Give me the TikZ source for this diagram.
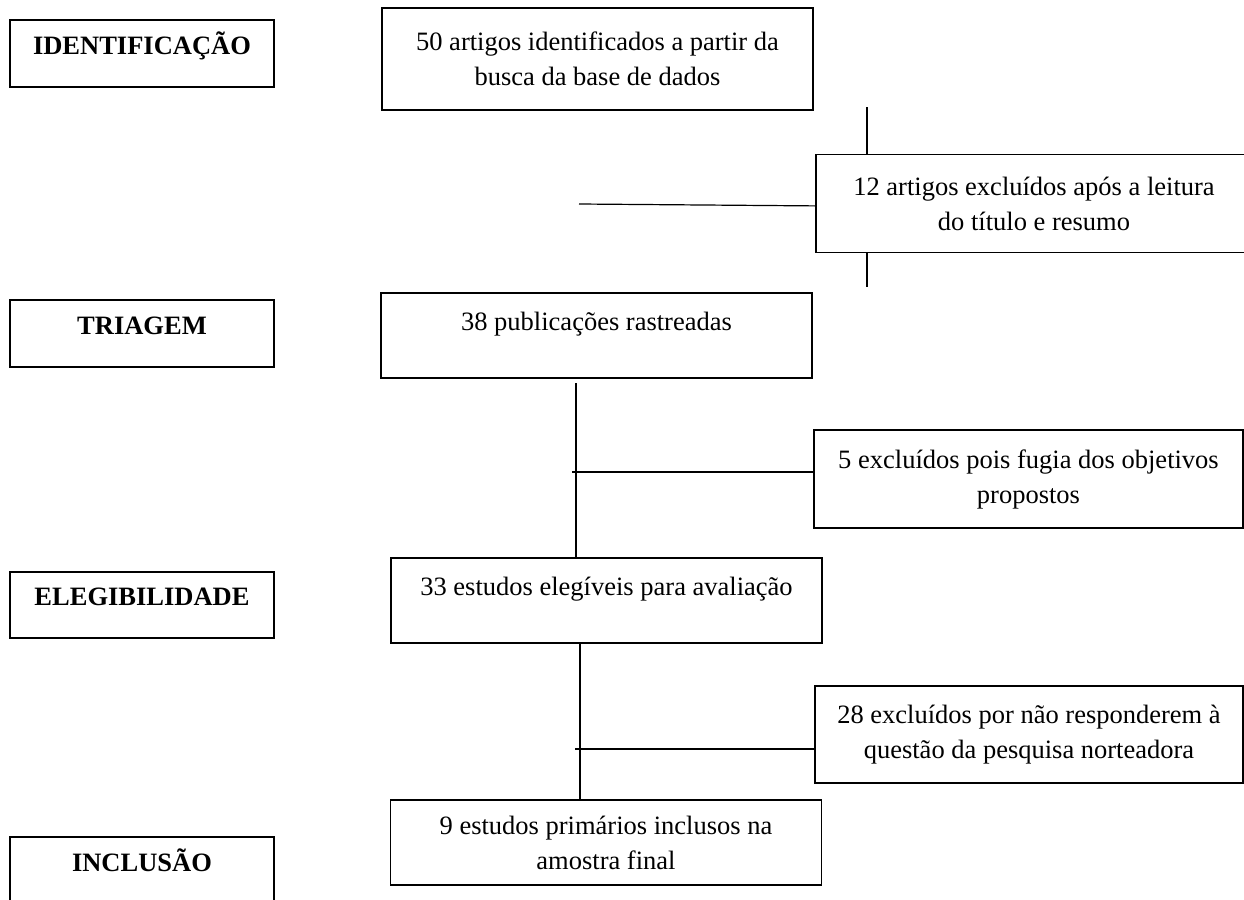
\documentclass[tikz,border=0pt]{standalone}
\usepackage{fontspec}
\setmainfont{Liberation Serif}
\usetikzlibrary{positioning}

\tikzset{
  box/.style={draw, line width=0.8pt, align=center, inner sep=2pt,
    font=\fontsize{13.25}{17.5}\selectfont},
  stage/.style={box, minimum width=132pt, minimum height=33.5pt,
    font=\fontsize{13.25}{17.5}\selectfont\bfseries, text height=9.5pt, text depth=9pt},
  flowbox/.style={box, minimum width=215.5pt, minimum height=42.5pt},
  single/.style={text height=9.5pt, text depth=15pt},
  exclbox/.style={box, minimum width=214.5pt, minimum height=49pt},
  link/.style={line width=0.6pt},
}

\begin{document}
\begin{tikzpicture}[x=0.5pt,y=-0.5pt]
  \useasboundingbox (0,0) rectangle (1244,900);

  % fases
  \node[stage] (ident) at (142,53.5) {IDENTIFICAÇÃO};
  \node[stage] (triag) at (142,333.5) {TRIAGEM};
  \node[stage, minimum height=33pt] (elegib) at (142,605) {ELEGIBILIDADE};
  \node[stage] (incl) at (142,870.5) {INCLUSÃO};

  % fluxo principal
  \node[flowbox, minimum height=51pt] (busca) at (597.5,59)
    {50 artigos identificados a partir da\\busca da base de dados};
  \node[flowbox, single] (rastr) at (596.5,335.5) {38 publicações rastreadas};
  \node[flowbox, single] (aval) at (606.5,600.5) {33 estudos elegíveis para avaliação};
  \node[flowbox] (final) at (606,842.5)
    {9 estudos primários inclusos na\\amostra final};

  % exclusoes
  \node[exclbox, minimum width=218pt] (excl1) at (1034,203.5)
    {12 artigos excluídos após a leitura\\do título e resumo};
  \node[exclbox] (excl2) at (1028.5,479)
    {5 excluídos pois fugia dos objetivos\\propostos};
  \node[exclbox, minimum width=214pt, minimum height=48.5pt] (excl3) at (1029,734.5)
    {28 excluídos por não responderem à\\questão da pesquisa norteadora};

  % ligacoes
  \coordinate (t1) at (867,107);
  \coordinate (b1) at (867,287);
  \coordinate (h1) at (579,204);
  \draw[link] (t1) -- (t1 |- excl1.north);
  \draw[link] (excl1.south -| b1) -- (b1);
  \draw[link] (h1) -- ([yshift=-1.2pt]excl1.west);

  \coordinate (v2) at (576,383);
  \coordinate (h2) at (572,472);
  \draw[link] (v2) -- (v2 |- aval.north);
  \draw[link] (h2) -- (h2 -| excl2.west);

  \coordinate (v3) at (580,643);
  \coordinate (h3) at (575,749);
  \draw[link] (v3) -- (v3 |- final.north);
  \draw[link] (h3) -- (h3 -| excl3.west);
\end{tikzpicture}
\end{document}
